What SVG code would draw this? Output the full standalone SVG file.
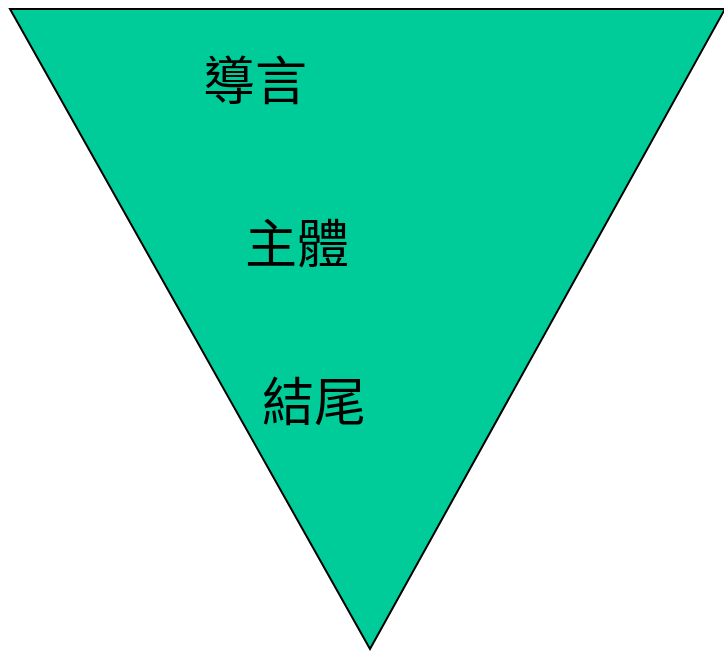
<svg xmlns="http://www.w3.org/2000/svg" width="724" height="651" viewBox="0 0 724 651">
<style>
.lbl{font-family:"Noto Sans CJK TC","Noto Sans CJK SC",sans-serif;font-size:52px;fill:#000}
</style>
<rect width="724" height="651" fill="#fff"/>
<g id="triangle">
<polygon points="10,9 725,9 370,649" fill="#00CC99" stroke="#000" stroke-width="2"/>
</g>
<g id="intro"><text class="lbl" x="203" y="100">導言</text></g>
<g id="body"><text class="lbl" x="245" y="263">主體</text></g>
<g id="end"><text class="lbl" x="262" y="421">結尾</text></g>
<g id="connectors"></g>
</svg>
